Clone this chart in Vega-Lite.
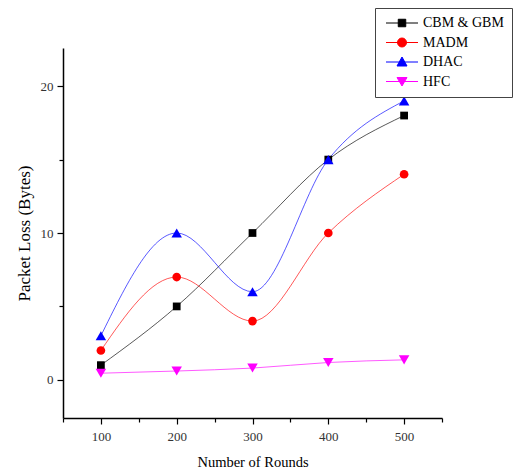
{
  "$schema": "https://vega.github.io/schema/vega-lite/v6.json",
  "width": 379,
  "height": 370,
  "autosize": "none",
  "padding": {"left": 63, "top": 48, "right": 72, "bottom": 57},
  "background": "white",
  "config": {
    "view": {"stroke": null},
    "font": "Liberation Serif"
  },
  "data": {
    "values": [
      {"series": "CBM & GBM", "rounds": 100, "loss": 1},
      {"series": "CBM & GBM", "rounds": 200, "loss": 5},
      {"series": "CBM & GBM", "rounds": 300, "loss": 10},
      {"series": "CBM & GBM", "rounds": 400, "loss": 15},
      {"series": "CBM & GBM", "rounds": 500, "loss": 18},
      {"series": "MADM", "rounds": 100, "loss": 2},
      {"series": "MADM", "rounds": 200, "loss": 7},
      {"series": "MADM", "rounds": 300, "loss": 4},
      {"series": "MADM", "rounds": 400, "loss": 10},
      {"series": "MADM", "rounds": 500, "loss": 14},
      {"series": "DHAC", "rounds": 100, "loss": 3},
      {"series": "DHAC", "rounds": 200, "loss": 10},
      {"series": "DHAC", "rounds": 300, "loss": 6},
      {"series": "DHAC", "rounds": 400, "loss": 15},
      {"series": "DHAC", "rounds": 500, "loss": 19},
      {"series": "HFC", "rounds": 100, "loss": 0.45},
      {"series": "HFC", "rounds": 200, "loss": 0.6},
      {"series": "HFC", "rounds": 300, "loss": 0.8},
      {"series": "HFC", "rounds": 400, "loss": 1.18},
      {"series": "HFC", "rounds": 500, "loss": 1.36}
    ]
  },
  "encoding": {
    "x": {
      "field": "rounds",
      "type": "quantitative",
      "scale": {"domain": [50, 550], "nice": false, "zero": false},
      "axis": {
        "title": "Number of Rounds",
        "values": [50, 100, 150, 200, 250, 300, 350, 400, 450, 500, 550],
        "labelExpr": "datum.value % 100 === 0 ? datum.label : ''",
        "grid": false,
        "domainColor": "#000000",
        "domainWidth": 1.5,
        "tickColor": "#000000",
        "tickWidth": 1.2,
        "tickSize": {"condition": {"test": "datum.value % 100 === 0", "value": 6}, "value": 4},
        "labelFont": "Liberation Serif",
        "labelFontSize": 13,
        "labelColor": "#333333",
        "labelPadding": 6,
        "titleFont": "Liberation Serif",
        "titleFontSize": 14.5,
        "titleFontWeight": "normal",
        "titleColor": "#000000",
        "titlePadding": 12
      }
    },
    "y": {
      "field": "loss",
      "type": "quantitative",
      "scale": {"domain": [-2.6, 22.6], "nice": false, "zero": false},
      "axis": {
        "title": "Packet Loss (Bytes)",
        "values": [0, 5, 10, 15, 20],
        "labelExpr": "datum.value % 10 === 0 ? datum.label : ''",
        "grid": false,
        "domainColor": "#000000",
        "domainWidth": 1.5,
        "tickColor": "#000000",
        "tickWidth": 1.2,
        "tickSize": {"condition": {"test": "datum.value % 10 === 0", "value": 6}, "value": 4},
        "labelFont": "Liberation Serif",
        "labelFontSize": 13,
        "labelColor": "#333333",
        "labelPadding": 4,
        "titleFont": "Liberation Serif",
        "titleFontSize": 17,
        "titleFontWeight": "normal",
        "titleColor": "#000000",
        "titlePadding": 7
      }
    },
    "color": {
      "field": "series",
      "type": "nominal",
      "sort": ["CBM & GBM", "MADM", "DHAC", "HFC"],
      "scale": {"domain": ["CBM & GBM", "MADM", "DHAC", "HFC"], "range": ["#000000", "#ff0000", "#0000ff", "#ff00ff"]},
      "legend": {
        "title": null,
        "orient": "none",
        "legendX": 312,
        "legendY": -40,
        "padding": 8,
        "strokeColor": "#444444",
        "fillColor": "white",
        "labelFont": "Liberation Serif",
        "labelFontSize": 14,
        "labelColor": "#000000",
        "symbolSize": 100,
        "symbolOffset": 12,
        "labelOffset": 14,
        "rowPadding": 5.5,
        "symbolStrokeWidth": 1,
        "symbolOpacity": 1,
        "symbolType": {"expr": "datum.value === 'CBM & GBM' ? 'M-3.2,0H3.2M-0.75,-0.75H0.75V0.75H-0.75Z' : datum.value === 'MADM' ? 'M-3.2,0H3.2M-0.9,0A0.9,0.9 0 1,0 0.9,0A0.9,0.9 0 1,0 -0.9,0Z' : datum.value === 'DHAC' ? 'M-3.2,0H3.2M0,-1L1,0.8L-1,0.8Z' : 'M-3.2,0H3.2M0,0.9L1,-0.8L-1,-0.8Z'"}
      }
    }
  },
  "layer": [
    {
      "mark": {"type": "line", "interpolate": "monotone", "strokeWidth": 1, "opacity": 0.65}
    },
    {
      "transform": [{"filter": "datum.series === 'CBM & GBM'"}],
      "mark": {"type": "point", "filled": true, "opacity": 1, "shape": "square", "size": 60}
    },
    {
      "transform": [{"filter": "datum.series === 'MADM'"}],
      "mark": {"type": "point", "filled": true, "opacity": 1, "shape": "circle", "size": 75}
    },
    {
      "transform": [{"filter": "datum.series === 'DHAC'"}],
      "mark": {"type": "point", "filled": true, "opacity": 1, "shape": "triangle-up", "size": 110}
    },
    {
      "transform": [{"filter": "datum.series === 'HFC'"}],
      "mark": {"type": "point", "filled": true, "opacity": 1, "shape": "triangle-down", "size": 110}
    }
  ]
}
